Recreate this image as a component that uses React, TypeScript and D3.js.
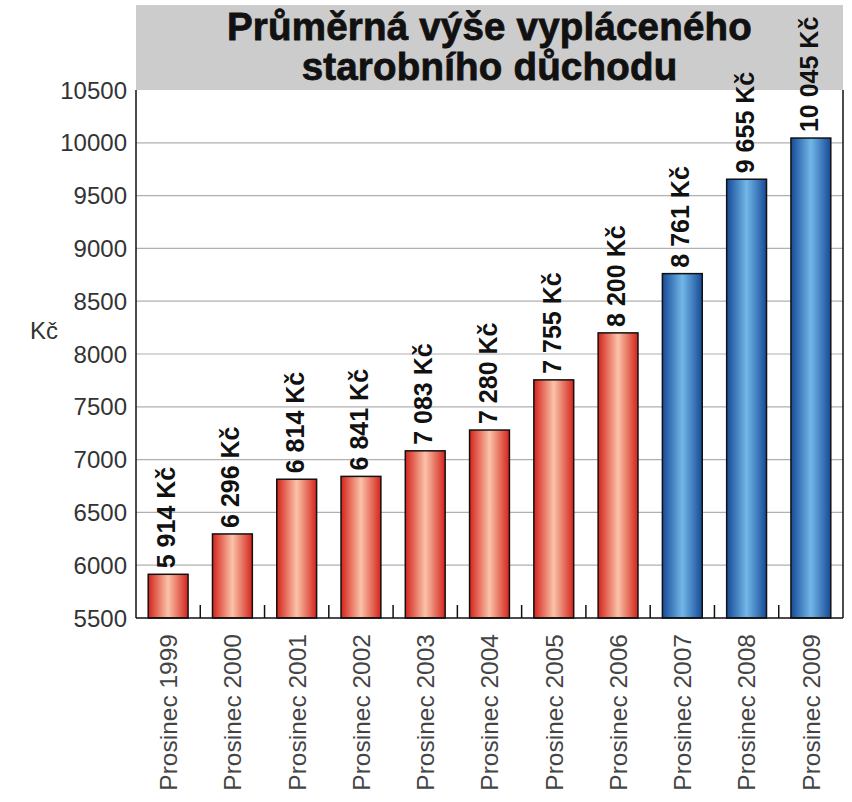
import React from "react";
import * as d3 from "d3";

const categories = [
  "Prosinec 1999", "Prosinec 2000", "Prosinec 2001", "Prosinec 2002",
  "Prosinec 2003", "Prosinec 2004", "Prosinec 2005", "Prosinec 2006",
  "Prosinec 2007", "Prosinec 2008", "Prosinec 2009",
];
const values = [5914, 6296, 6814, 6841, 7083, 7280, 7755, 8200, 8761, 9655, 10045];
const groups = ["red", "red", "red", "red", "red", "red", "red", "red", "blue", "blue", "blue"];
const yTicks = [5500, 6000, 6500, 7000, 7500, 8000, 8500, 9000, 9500, 10000, 10500];
const titleLines = ["Průměrná výše vypláceného", "starobního důchodu"];
const yAxisTitle = "Kč";
const unit = "Kč";

const W = 852, H = 802;
const left = 136, right = 843, top = 90, bottom = 618;
const FONT = "'Liberation Sans', Arial, Helvetica, sans-serif";
const NARROW = "'Liberation Sans Narrow', 'Arial Narrow', 'Liberation Sans', sans-serif";

const fmt = (v: number) =>
  String(v).replace(/\B(?=(\d{3})+(?!\d))/g, " ") + " " + unit;

export default function App() {
  const x = d3.scaleBand<string>().domain(categories).range([left, right]).paddingInner(0.38).paddingOuter(0.19);
  const y = d3.scaleLinear().domain([5500, 10500]).range([bottom, top]);
  const bandW = (right - left) / categories.length;
  const bounds = d3.range(1, categories.length).map((i) => left + bandW * i);
  const bandCenter = (i: number) => (x(categories[i]) as number) + x.bandwidth() / 2;
  const bw = x.bandwidth();

  return (
    <svg width={W} height={H} style={{ position: "absolute", left: 0, top: 0, background: "#fff" }} fontFamily={FONT}>
      <defs>
        <linearGradient id="gRed" x1="0" x2="1" y1="0" y2="0">
          <stop offset="0" stopColor="#d4241c" />
          <stop offset="0.5" stopColor="#fbc3a9" />
          <stop offset="1" stopColor="#d4241c" />
        </linearGradient>
        <linearGradient id="gBlue" x1="0" x2="1" y1="0" y2="0">
          <stop offset="0" stopColor="#164a97" />
          <stop offset="0.5" stopColor="#72b7e8" />
          <stop offset="1" stopColor="#164a97" />
        </linearGradient>
      </defs>

      {/* title band */}
      <rect x={left} y={5} width={right - left} height={top - 5} fill="#cccccc" />
      {titleLines.map((t, i) => (
        <text key={t} x={(left + right) / 2} y={40 + i * 40} textAnchor="middle" fontSize={38.5} fontWeight="bold"
          fill="#111" stroke="#111" strokeWidth={0.8} letterSpacing={0.2}>
          {t}
        </text>
      ))}

      {/* gridlines */}
      {yTicks.filter((t) => t > 5500 && t < 10500).map((t) => (
        <line key={t} x1={left} x2={right} y1={y(t)} y2={y(t)} stroke="#b0b0b0" strokeWidth={1.2} />
      ))}

      {/* y tick labels */}
      {yTicks.map((t) => (
        <text key={t} x={127} y={y(t)} dy="0.36em" textAnchor="end" fontSize={24} fill="#333">
          {t}
        </text>
      ))}
      <text x={30} y={330} dy="0.36em" fontSize={24} fill="#333">{yAxisTitle}</text>

      {/* bars */}
      {values.map((v, i) => {
        const cx = bandCenter(i);
        return (
          <g key={i}>
            <rect x={cx - bw / 2} y={y(v)} width={bw} height={bottom - y(v)}
              fill={groups[i] === "red" ? "url(#gRed)" : "url(#gBlue)"} stroke="#111" strokeWidth={1.5} />
            <text transform={`translate(${cx - 2},${y(v) - 6}) rotate(-90)`} dy="0.36em" fontSize={25} fontWeight="bold"
              fontFamily={NARROW} fill="#111">
              {fmt(v)}
            </text>
          </g>
        );
      })}

      {/* axes */}
      <line x1={left} x2={left} y1={top} y2={bottom} stroke="#111" strokeWidth={1.5} />
      <line x1={right} x2={right} y1={top} y2={bottom} stroke="#111" strokeWidth={1.5} />
      <line x1={left} x2={right} y1={bottom} y2={bottom} stroke="#111" strokeWidth={1.5} />
      {bounds.map((b, i) => (
        <line key={i} x1={b} x2={b} y1={bottom} y2={bottom - 13} stroke="#111" strokeWidth={1.5} />
      ))}

      {/* x labels */}
      {categories.map((c, i) => (
        <text key={c} transform={`translate(${bandCenter(i)},${634}) rotate(-90)`} dy="0.36em" textAnchor="end" fontSize={24.5} fill="#444">
          {c}
        </text>
      ))}
    </svg>
  );
}
